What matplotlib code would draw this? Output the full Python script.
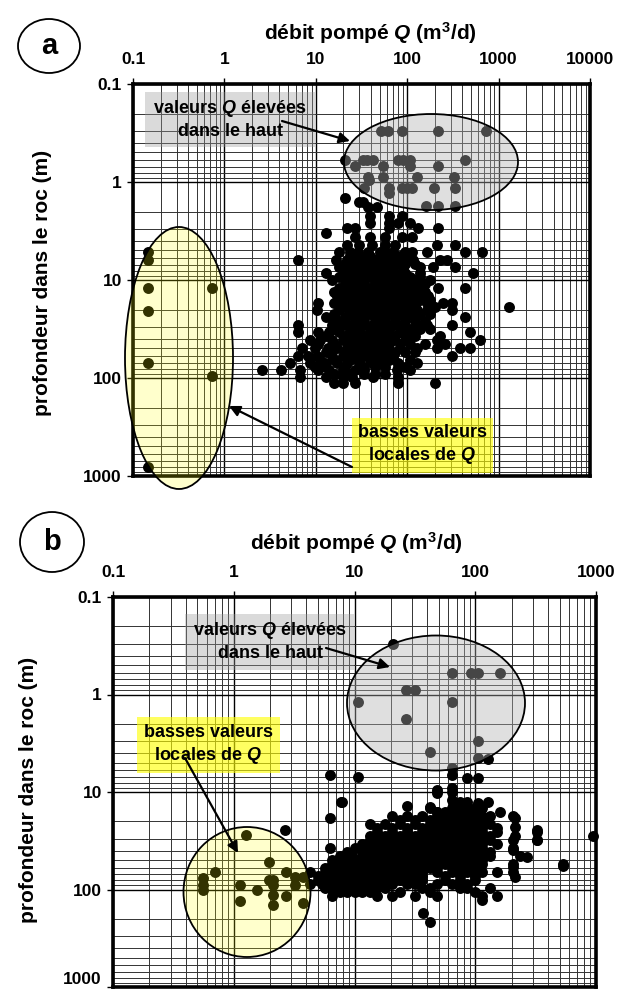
import matplotlib
matplotlib.use('Agg')
import matplotlib.pyplot as plt
from matplotlib.patches import Ellipse, Rectangle
from matplotlib.ticker import LogLocator, NullFormatter

plt.rcParams['font.family'] = ['Liberation Sans', 'DejaVu Sans']
plt.rcParams['font.weight'] = 'bold'
plt.rcParams['mathtext.fontset'] = 'custom'
plt.rcParams['mathtext.rm'] = 'Liberation Sans:bold'
plt.rcParams['mathtext.it'] = 'Liberation Sans:italic:bold'
plt.rcParams['mathtext.bf'] = 'Liberation Sans:bold'

# ---------------- data : panel a ----------------
xticks_a = [0.1, 1, 10, 100, 1000, 10000]
xticklabels_a = ['0.1', '1', '10', '100', '1000', '10000']
yticks = [0.1, 1, 10, 100, 1000]
yticklabels = ['0.1', '1', '10', '100', '1000']

depth_a_rows = [0.3, 0.59, 0.69, 0.88, 0.95, 1.15, 1.3, 1.45, 1.6, 1.77, 1.8, 2.2, 2.6, 2.95, 3.3,
                3.6, 4.4, 5.2, 5.7, 6.25, 6.9, 7.4, 8.5, 9.3, 10, 11, 12, 13.3, 14.6, 16, 17.2,
                18.8, 18.9, 20.2, 22.2, 23.8, 26.2, 28.8, 31.6, 34, 37.3, 41, 45, 49.5, 54.3,
                59.5, 65.5, 70, 77, 83, 91, 97.5, 112]
q_a_rows = [
    [52, 62, 88, 215, 720],
    [21, 33, 36, 42, 79, 90, 107, 427],
    [27, 54, 107, 216],
    [37, 54, 127, 323],
    [38],
    [34, 64, 87, 100, 112, 195, 333],
    [64],
    [21],
    [30, 33],
    [160, 216, 333],
    [37, 47],
    [39, 64, 87],
    [39, 64, 79, 107],
    [22, 27, 64, 130, 216],
    [13],
    [27, 39, 57, 87, 112],
    [22, 30, 41, 57, 73, 210, 332],
    [18, 23.5, 29, 37, 50, 57, 70, 94, 112, 164, 427, 655],
    [23.5, 30, 39, 50, 64, 83, 107],
    [6.4, 16.5, 22, 27, 34, 42, 54, 70, 90, 115, 227, 270],
    [21, 27, 34, 44, 57, 73, 94, 121],
    [18, 23.5, 30, 39, 50, 64, 90, 137, 190, 332],
    [13, 21, 27, 34, 44, 57, 73, 94, 137, 520],
    [18, 23.5, 30, 39, 50, 64, 83, 107, 137],
    [15, 21, 27, 34, 44, 57, 73, 94, 121, 177],
    [21, 27, 34, 44, 57, 73, 94, 121, 156],
    [18, 23.5, 30, 39, 50, 64, 83, 107, 137, 216, 427],
    [16, 21, 27, 34, 44, 57, 73, 94, 121, 156],
    [17, 22, 29, 37, 47, 61, 79, 102, 130, 168],
    [18, 23.5, 30, 39, 50, 64, 83, 107, 137, 177],
    [10.5, 16, 21, 27, 34, 44, 57, 73, 94, 121, 164, 245, 313],
    [1300],
    [21, 27, 34, 44, 57, 73, 94, 121, 200],
    [10.3, 18, 23.5, 30, 39, 50, 64, 83, 107, 127, 164, 313],
    [16, 23.5, 30, 39, 50, 64, 83, 107, 137, 177],
    [13, 16, 21, 27, 34, 44, 57, 73, 94, 121, 427],
    [18, 21, 27, 34, 44, 57, 73, 94, 121, 156],
    [6.4, 15, 20, 25, 33, 42, 54, 70, 90, 127, 164, 313],
    [16, 23.5, 30, 39, 50, 64, 83, 107, 137, 177],
    [6.4, 10.5, 14, 18, 23.5, 30, 39, 50, 64, 83, 107, 484],
    [13, 21, 27, 34, 44, 57, 73, 94, 121, 227],
    [8.6, 11, 15, 20, 25, 33, 42, 54, 70, 99, 210, 622],
    [10.5, 16, 23.5, 30, 39, 50, 64, 83, 107, 156, 258],
    [7, 9.8, 13.5, 17, 22, 29, 37, 47, 61, 83, 127, 210, 376, 484],
    [13, 21, 27, 34, 44, 57, 73, 94, 121],
    [6.4, 8.2, 10.3, 15, 20, 25, 33, 42, 54, 70, 313],
    [11, 16, 23.5, 30, 39, 50, 64, 107],
    [5.2, 8.6, 12.5, 17, 22, 30, 42, 79, 127],
    [9.8, 13, 21, 34, 44, 57, 94],
    [2.6, 4.2, 6.7, 10.5, 14, 20, 27, 34, 77, 107],
    [16, 23.5, 34, 44, 57],
    [6.7, 13, 20, 25, 42, 79],
    [16, 20, 27, 79, 200],
]
q_a_low = [0.146, 0.146, 0.146, 0.146, 0.146, 0.146, 0.73, 0.73]
d_a_low = [5.2, 6.25, 12, 20.7, 70, 810, 12, 95]

# ---------------- data : panel b ----------------
xticks_b = [0.1, 1, 10, 100, 1000]
xticklabels_b = ['0.1', '1', '10', '100', '1000']

q_b_high = [21, 64, 93, 105, 160, 26.5, 32, 10.6, 64, 26.5, 105, 42, 105, 64]
d_b_high = [0.3, 0.6, 0.6, 0.6, 0.6, 0.9, 0.9, 1.19, 1.19, 1.78, 3.0, 3.9, 4.5, 5.7]

q_b_scatter = [128, 10.6, 64, 85, 105, 48, 64, 64, 75, 85, 105, 128, 42, 48, 160, 7.9, 6.3, 7.7,
               6.3, 2.66, 6.3, 64, 48, 213, 213, 324, 324, 205, 205, 268, 213, 944, 533, 37, 42,
               114, 27]
d_b_scatter = [4.6, 7.0, 6.7, 7.2, 7.2, 10.2, 10, 12.1, 12.6, 12.6, 13, 12.6, 14.2, 16, 16, 12.6,
               6.7, 12.7, 18.5, 24.5, 37.5, 9.1, 9.5, 18.5, 22.8, 24.5, 31, 39, 59, 46.5, 74, 28,
               57, 174, 215, 128, 14]

q_b_low = [1.26, 0.70, 0.56, 0.56, 0.56, 1.13, 1.13, 1.55, 1.97, 1.97, 2.11, 2.11, 2.11, 2.11,
           2.69, 2.69, 3.21, 3.21, 3.77, 3.77]
d_b_low = [27.6, 65.6, 77, 90, 101, 90, 130, 102, 52, 80, 80, 90, 114, 144, 65.6, 116, 74, 90,
           74, 136]

depth_b_rows = [14.6, 16.0, 17.6, 19.4, 21.3, 23.4, 25.7, 28.3, 31.0, 34.2, 37.5, 41.3, 45.3,
                49.8, 54.7, 60.1, 66, 72.7, 80, 87.8, 96.5, 106, 116.5]
q_b_rows = [
    [42.2, 64.2, 74.8, 85.5, 99.5, 114],
    [48.2, 56.2, 64.2, 74.8, 85.5, 99.5],
    [20.4, 27.2, 36.2, 48.2, 56.2, 64.2, 74.8, 85.5, 99.5, 114, 132, 205],
    [23.8, 31.7, 42.2, 56.2, 64.2, 74.8, 85.5, 99.5, 114],
    [13.4, 17.9, 23.8, 31.7, 42.2, 48.2, 56.2, 64.2, 74.8, 85.5, 99.5, 114, 132],
    [15.4, 20.4, 27.2, 36.2, 48.2, 56.2, 64.2, 74.8, 85.5, 114, 151],
    [15.4, 20.4, 27.2, 36.2, 42.2, 56.2, 64.2, 74.8, 85.5, 99.5, 114, 151, 324],
    [13.4, 15.4, 17.9, 20.4, 23.8, 27.2, 31.7, 36.2, 42.2, 48.2, 56.2, 64.2, 74.8, 85.5, 99.5,
     132, 213],
    [13.4, 15.4, 17.9, 20.4, 23.8, 27.2, 31.7, 36.2, 42.2, 48.2, 56.2, 64.2, 74.8, 85.5, 99.5,
     114, 132, 205, 324],
    [11.5, 13.4, 15.4, 17.9, 20.4, 23.8, 27.2, 31.7, 36.2, 42.2, 48.2, 56.2, 64.2, 74.8, 85.5,
     99.5, 114, 151],
    [10.1, 12.5, 15.4, 17.9, 20.4, 23.8, 27.2, 31.7, 36.2, 42.2, 48.2, 56.2, 64.2, 74.8, 85.5,
     99.5, 114, 205],
    [8.67, 11.5, 13.4, 15.4, 17.9, 20.4, 23.8, 27.2, 31.7, 36.2, 42.2, 48.2, 56.2, 64.2, 74.8,
     85.5, 99.5, 114, 132],
    [7.59, 9.5, 11.5, 13.4, 17.9, 20.4, 23.8, 27.2, 31.7, 36.2, 42.2, 48.2, 56.2, 64.2, 74.8,
     85.5, 99.5, 132, 235],
    [6.52, 8.0, 10.1, 11.5, 15.4, 17.9, 20.4, 23.8, 27.2, 31.7, 36.2, 42.2, 48.2, 56.2, 64.2,
     74.8, 85.5, 114],
    [6.52, 7.5, 8.67, 10.5, 13.4, 15.4, 17.9, 20.4, 23.8, 27.2, 31.7, 36.2, 42.2, 56.2, 64.2,
     74.8, 99.5, 114, 205, 533],
    [5.7, 6.5, 7.59, 9.0, 11.5, 13.4, 15.4, 17.9, 20.4, 23.8, 27.2, 31.7, 36.2, 42.2, 48.2,
     64.2, 74.8, 85.5, 99.5],
    [4.28, 5.7, 6.5, 7.59, 8.7, 10.1, 11.5, 13.4, 15.4, 17.9, 20.4, 23.8, 27.2, 31.7, 36.2,
     48.2, 64.2, 85.5, 114, 151, 205],
    [5.0, 5.7, 6.52, 7.59, 8.67, 10.1, 11.5, 13.4, 15.4, 17.9, 20.4, 23.8, 27.2, 31.7, 36.2,
     56.2, 74.8, 99.5],
    [4.99, 5.7, 6.52, 7.59, 8.67, 10.1, 11.5, 13.4, 15.4, 17.9, 20.4, 23.8, 27.2, 31.7, 36.2,
     56.2, 74.8, 99.5],
    [4.28, 5.4, 6.52, 7.59, 8.67, 10.1, 11.5, 13.4, 15.4, 17.9, 20.4, 27.2, 31.7, 48.2, 64.2,
     85.5],
    [5.7, 6.52, 7.59, 8.67, 10.1, 11.5, 13.4, 15.4, 17.9, 36.2, 42.2, 74.8, 85.5, 132],
    [7.59, 8.67, 10.1, 11.5, 13.4, 23.8, 42.2, 99.5],
    [6.52, 15.4, 20.4, 31.7, 48.2, 114, 151],
]

# ---------------- layout helpers ----------------
W, H = 624, 993
fig = plt.figure(figsize=(W / 100, H / 100), dpi=100)


def fx(px):
    return px / W


def fy(py):
    return 1 - py / H


def style_axes(ax, xlim, xticks, xticklabels):
    ax.set_xscale('log')
    ax.set_yscale('log')
    ax.set_xlim(*xlim)
    ax.set_ylim(1000, 0.1)
    ax.xaxis.tick_top()
    ax.xaxis.set_minor_locator(LogLocator(base=10, subs=range(2, 10), numticks=50))
    ax.yaxis.set_minor_locator(LogLocator(base=10, subs=range(2, 10), numticks=50))
    ax.xaxis.set_minor_formatter(NullFormatter())
    ax.yaxis.set_minor_formatter(NullFormatter())
    ax.set_xticks(xticks)
    ax.set_xticklabels(xticklabels)
    ax.set_yticks(yticks)
    ax.set_yticklabels(yticklabels)
    ax.tick_params(axis='x', which='major', top=True, bottom=False, labeltop=True,
                   labelbottom=False, direction='out', length=4, width=1, pad=8, labelsize=12.5)
    ax.tick_params(axis='y', which='major', left=True, right=False, direction='out',
                   length=4, width=1, pad=4, labelsize=12.5)
    ax.tick_params(which='minor', length=0)
    ax.set_axisbelow(True)
    ax.grid(which='major', color='black', lw=1.0)
    ax.grid(which='minor', color='#333333', lw=0.7)
    for s in ax.spines.values():
        s.set_linewidth(2.6)
        s.set_color('black')
    for lab in ax.get_xticklabels() + ax.get_yticklabels():
        lab.set_fontweight('bold')


def fig_ellipse(ax, cx, cy, w, h, fc):
    e = Ellipse((fx(cx), fy(cy)), w / W, h / H, transform=fig.transFigure, facecolor=fc,
                edgecolor='black', lw=1.3, zorder=5, clip_on=False)
    ax.add_patch(e)


def fig_box(ax, x0, y0, x1, y1, fc):
    r = Rectangle((fx(x0), fy(y1)), (x1 - x0) / W, (y1 - y0) / H, transform=fig.transFigure,
                  facecolor=fc, edgecolor='none', zorder=6, clip_on=False)
    ax.add_patch(r)


def fig_arrow(ax, x0, y0, x1, y1):
    ax.annotate('', xy=(fx(x1), fy(y1)), xytext=(fx(x0), fy(y0)),
                xycoords='figure fraction', textcoords='figure fraction',
                arrowprops=dict(arrowstyle='-|>', color='black', lw=1.6, mutation_scale=16,
                                shrinkA=0, shrinkB=0),
                annotation_clip=False, zorder=8)


GRAY_FILL = (0.69, 0.69, 0.69, 0.40)
YELLOW_FILL = (1.0, 1.0, 0.0, 0.20)
GRAY_BOX = (0.6, 0.6, 0.6, 0.36)
YELLOW_BOX = (1.0, 1.0, 0.0, 0.62)
MS = 62
BOXFS = 13
LABFS = 15

# ---------------- panel a ----------------
axA = fig.add_axes([fx(133), fy(476), (590 - 133) / W, (476 - 84) / H])
style_axes(axA, (0.1, 10000), xticks_a, xticklabels_a)

qa, da = [], []
for dep, qs in zip(depth_a_rows, q_a_rows):
    for q in qs:
        qa.append(q)
        da.append(dep)
axA.scatter(qa, da, s=MS, c='black', linewidths=0, zorder=3, clip_on=False)
axA.scatter(q_a_low, d_a_low, s=MS, c='black', linewidths=0, zorder=3, clip_on=False)

fig_ellipse(axA, 431, 162, 174, 96, GRAY_FILL)
fig_ellipse(axA, 179, 358, 108, 262, YELLOW_FILL)
fig_box(axA, 145, 92, 315, 147, GRAY_BOX)
fig_box(axA, 352, 418, 493, 473, YELLOW_BOX)
fig.text(fx(230), fy(119), 'valeurs $Q$ élevées\ndans le haut', ha='center', va='center',
         fontsize=BOXFS, fontweight='bold', linespacing=1.25, zorder=9)
fig.text(fx(422), fy(445), 'basses valeurs\nlocales de $Q$', ha='center', va='center',
         fontsize=BOXFS, fontweight='bold', linespacing=1.25, zorder=9)
fig_arrow(axA, 282, 121, 350, 141)
fig_arrow(axA, 352, 467, 229, 406)

fig.text(fx(370), fy(33), 'débit pompé $Q$ (m$^3$/d)', ha='center', va='center', fontsize=LABFS,
         fontweight='bold')
fig.text(fx(43), fy(283), 'profondeur dans le roc (m)', ha='center', va='center', fontsize=LABFS,
         fontweight='bold', rotation=90)
fig.patches.append(Ellipse((fx(49), fy(46)), 62 / W, 54 / H, transform=fig.transFigure,
                           facecolor='white', edgecolor='black', lw=1.3))
fig.text(fx(49), fy(46), 'a', ha='center', va='center', fontsize=21, fontweight='bold')

# ---------------- panel b ----------------
axB = fig.add_axes([fx(113), fy(987), (596 - 113) / W, (987 - 597) / H])
style_axes(axB, (0.1, 1000), xticks_b, xticklabels_b)
axB.get_yticklabels()[-1].set_verticalalignment('bottom')

qb, db = [], []
for dep, qs in zip(depth_b_rows, q_b_rows):
    for q in qs:
        qb.append(q)
        db.append(dep)
axB.scatter(qb, db, s=MS, c='black', linewidths=0, zorder=3, clip_on=False)
axB.scatter(q_b_scatter, d_b_scatter, s=MS, c='black', linewidths=0, zorder=3, clip_on=False)
axB.scatter(q_b_high, d_b_high, s=MS, c='black', linewidths=0, zorder=3, clip_on=False)
axB.scatter(q_b_low, d_b_low, s=MS, c='black', linewidths=0, zorder=3, clip_on=False)

fig_ellipse(axB, 436, 703, 178, 135, GRAY_FILL)
fig_ellipse(axB, 247, 892, 127, 130, YELLOW_FILL)
fig_box(axB, 185, 614, 354, 670, GRAY_BOX)
fig_box(axB, 137, 717, 280, 773, YELLOW_BOX)
fig.text(fx(270), fy(641), 'valeurs $Q$ élevées\ndans le haut', ha='center', va='center',
         fontsize=BOXFS, fontweight='bold', linespacing=1.25, zorder=9)
fig.text(fx(208), fy(745), 'basses valeurs\nlocales de $Q$', ha='center', va='center',
         fontsize=BOXFS, fontweight='bold', linespacing=1.25, zorder=9)
fig_arrow(axB, 326, 648, 390, 667)
fig_arrow(axB, 185, 758, 238, 853)

fig.text(fx(356), fy(543), 'débit pompé $Q$ (m$^3$/d)', ha='center', va='center', fontsize=LABFS,
         fontweight='bold')
fig.text(fx(29), fy(790), 'profondeur dans le roc (m)', ha='center', va='center', fontsize=LABFS,
         fontweight='bold', rotation=90)
fig.patches.append(Ellipse((fx(52), fy(542)), 64 / W, 60 / H, transform=fig.transFigure,
                           facecolor='white', edgecolor='black', lw=1.3))
fig.text(fx(52), fy(542), 'b', ha='center', va='center', fontsize=21, fontweight='bold')

fig.savefig('out.png', dpi=100)
